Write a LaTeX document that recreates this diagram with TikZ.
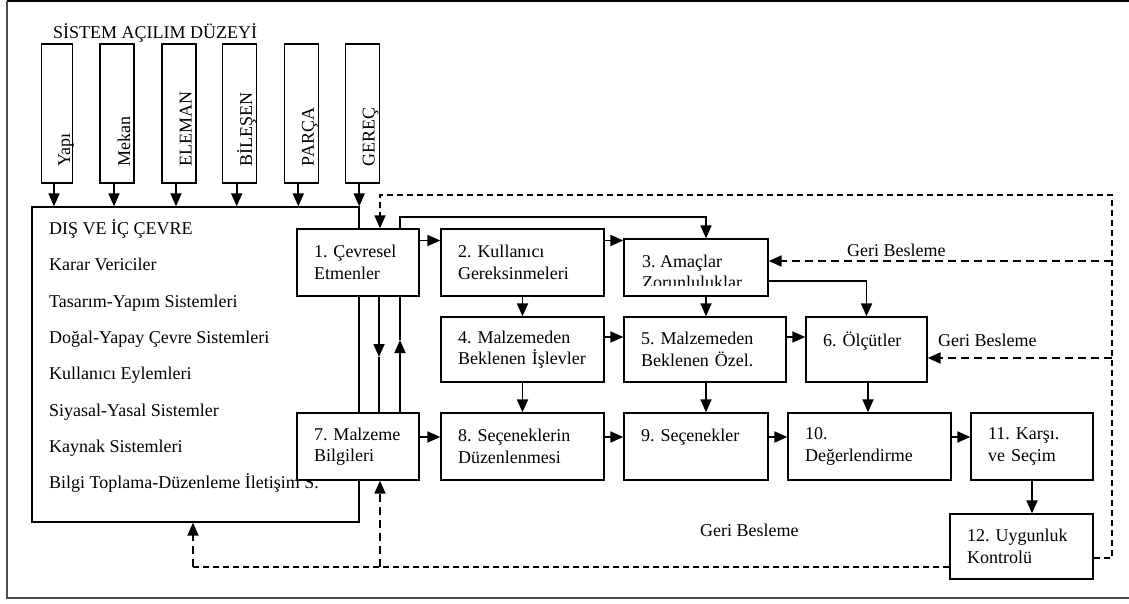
\documentclass[tikz,border=0pt]{standalone}
\usepackage{fontspec}
\setmainfont{Liberation Serif}
\usetikzlibrary{arrows.meta}
\newcommand{\yazi}{\fontsize{18}{21.5}\selectfont\frenchspacing}
\tikzset{
	kutu/.style={draw, line width=1.3pt, fill=white, align=left, inner xsep=17pt, inner ysep=0pt},
	dikey/.style={draw, line width=1.3pt, minimum height=139pt, inner sep=0pt},
	dikeyyazi/.style={rotate=90, anchor=base west, inner sep=0pt},
	satir/.style={anchor=base west, inner sep=0pt},
	ok/.style={line width=1.8pt, ->},
	cizgi/.style={line width=1.8pt},
	geri/.style={line width=1.8pt, dash pattern=on 8pt off 5pt, ->},
	ince/.style={line width=1.3pt, dash pattern=on 6pt off 4pt}
}
\begin{document}
\begin{tikzpicture}[>={Triangle[length=13pt,width=11pt]}, x=1pt, y=-1pt, font=\yazi]
	\useasboundingbox (0,0) rectangle (1129,604);
	% frame
	\draw[line width=2pt] (1129,1.5) -- (7,1.5);
	\draw[line width=1.2pt, black!70] (7,1.5) -- (7,598) -- (1129,598);
	
	\node[satir] (baslik) at (53,39) {SİSTEM AÇILIM DÜZEYİ};
	
	% system levels
	\node[dikey, minimum width=31pt] (yapi) at (57,113.5) {};
	\node[dikey, minimum width=34pt] (mekan) at (117,113.5) {};
	\node[dikey, minimum width=34pt] (eleman) at (179,113.5) {};
	\node[dikey, minimum width=34pt] (bilesen) at (239.7,113.5) {};
	\node[dikey, minimum width=34pt] (parca) at (301.3,113.5) {};
	\node[dikey, minimum width=34pt] (gerec) at (362.2,113.5) {};
	\node[dikeyyazi] (yapiy) at (70,166.5) {Yapı};
	\node[dikeyyazi] (mekany) at (130,166.5) {Mekan};
	\node[dikeyyazi] (elemany) at (191.5,166.5) {ELEMAN};
	\node[dikeyyazi] (bileseny) at (252,166.5) {BİLEŞEN};
	\node[dikeyyazi] (parcay) at (313.8,166.5) {PARÇA};
	\node[dikeyyazi] (gerecy) at (374.5,166.5) {GEREÇ};
	
	% environment
	\node[draw, line width=1.3pt, minimum width=327pt, minimum height=315pt, inner sep=0pt] (dis) at (195.5,364.5) {};
	\draw[ok] ([xshift=-3pt]yapi.south) -- ([xshift=-3pt]yapi.south |- dis.north);
	\draw[ok] ([xshift=-3pt]mekan.south) -- ([xshift=-3pt]mekan.south |- dis.north);
	\draw[ok] ([xshift=-3pt]eleman.south) -- ([xshift=-3pt]eleman.south |- dis.north);
	\draw[ok] ([xshift=-3pt]bilesen.south) -- ([xshift=-3pt]bilesen.south |- dis.north);
	\draw[ok] ([xshift=-3pt]parca.south) -- ([xshift=-3pt]parca.south |- dis.north);
	\draw[ok] ([xshift=-3pt]gerec.south) -- ([xshift=-3pt]gerec.south |- dis.north);
	\node[satir] (c1) at (49,234.3) {DIŞ VE İÇ ÇEVRE};
	\node[satir] (c2) at (49,270.65) {Karar Vericiler};
	\node[satir] (c3) at (49,307) {Tasarım-Yapım Sistemleri};
	\node[satir] (c4) at (49,343.35) {Doğal-Yapay Çevre Sistemleri};
	\node[satir] (c5) at (49,379.7) {Kullanıcı Eylemleri};
	\node[satir] (c6) at (49,416.05) {Siyasal-Yasal Sistemler};
	\node[satir] (c7) at (49,452.4) {Kaynak Sistemleri};
	\node[satir] (c8) at (49,488.75) {Bilgi Toplama-Düzenleme İletişim S.};
	
	% steps
	\node[kutu, text width=88pt, minimum height=67pt] (k1) at (358,262.5) {1. Çevresel\\Etmenler};
	\node[kutu, text width=129pt, minimum height=67pt] (k2) at (522.5,262.5) {2. Kullanıcı\\Gereksinmeleri};
	\node[kutu, minimum width=144pt, minimum height=57pt] (k3) at (696,267.5) {};
	\begin{scope}
		\clip (624,239) rectangle (768,285.5);
		\node[anchor=north west, align=left, inner sep=0pt] (k3y) at (642,254.5) {3. Amaçlar\\Zorunluluklar};
	\end{scope}
	\node[kutu, text width=129pt, minimum height=65pt] (k4) at (522.5,349.5) {4. Malzemeden\\Beklenen İşlevler};
	\node[kutu, text width=128pt, minimum height=65pt] (k5) at (705,349.5) {5. Malzemeden\\Beklenen Özel.};
	\node[kutu, text width=87pt, minimum height=65pt] (k6) at (866.5,349.5) {6. Ölçütler\\\mbox{}};
	\node[kutu, text width=88pt, minimum height=67pt] (k7) at (358,446.5) {7. Malzeme\\Bilgileri};
	\node[kutu, text width=129pt, minimum height=67pt] (k8) at (522.5,446.5) {8. Seçeneklerin\\Düzenlenmesi};
	\node[kutu, text width=110pt, minimum height=67pt] (k9) at (696,446.5) {9. Seçenekler\\\mbox{}};
	\node[kutu, text width=129pt, minimum height=67pt] (k10) at (869.5,446.5) {10.\\Değerlendirme};
	\node[kutu, text width=88pt, minimum height=67pt] (k11) at (1032,446.5) {11. Karşı.\\ve Seçim};
	\node[kutu, text width=109pt, minimum height=65pt] (k12) at (1021.5,546.5) {12. Uygunluk\\Kontrolü};
	
	\coordinate (y1) at (0,240.5);
	\coordinate (y2) at (0,337);
	\coordinate (y3) at (0,437);
	\coordinate (u1) at (400,217);
	\coordinate (u2) at (706,217);
	\coordinate (u3) at (0,281);
	\coordinate (u4) at (868,0);
	\coordinate (m1) at (379,357);
	\coordinate (m2) at (400,340);
	
	\draw[ok] (k1.east |- y1) -- (k2.west |- y1);
	\draw[ok] (k2.east |- y1) -- (k3.west |- y1);
	\draw[ok] (k1.north -| u1) -- (u1) -- (u2) -- (k3.north -| u2);
	\draw[ok] (k2) -- (k4);
	\draw[ok] (k3.south -| u2) -- (k5.north -| u2);
	\draw[ok] (k3.east |- u3) -| (k6.north);
	\draw[ok] (k4.east |- y2) -- (k5.west |- y2);
	\draw[ok] (k5.east |- y2) -- (k6.west |- y2);
	\draw[ok] (k4) -- (k8);
	\draw[ok] (k5.south -| u2) -- (k9.north -| u2);
	\draw[ok] (k6.south -| u4) -- (k10.north -| u4);
	\draw[ok] (k7.east |- y3) -- (k8.west |- y3);
	\draw[ok] (k8.east |- y3) -- (k9.west |- y3);
	\draw[ok] (k9.east |- y3) -- (k10.west |- y3);
	\draw[ok] (k10.east |- y3) -- (k11.west |- y3);
	\draw[ok] (k11.south) -- (k11.south |- k12.north);
	% between 1 and 7
	\draw[ok] (k1.south -| m1) -- (m1);
	\draw[cizgi] (m1) -- (k7.north -| m1);
	\draw[ok] (k7.north -| m2) -- (m2);
	\draw[cizgi] (m2) -- (k1.south -| m2);
	
	% feedback
	\coordinate (r1) at (1112,195);
	\coordinate (r2) at (1112,558);
	\coordinate (g1) at (380,195);
	\coordinate (yg1) at (0,261);
	\coordinate (yg2) at (0,358);
	\coordinate (a1) at (193,567);
	\coordinate (a2) at (380,567);
	\draw[ince,->] (k12.east |- r2) -- (r2) -- (r1) -- (g1) -- (k1.north -| g1);
	\draw[geri] (r1 |- yg1) -- (k3.east |- yg1);
	\draw[geri] (r1 |- yg2) -- (k6.east |- yg2);
	\draw[ince] (k12.west |- a1) -- (a1);
	\draw[geri] (a1) -- (dis.south -| a1);
	\draw[geri] (a2) -- (k7.south -| a2);
	\node[satir] (gb1) at (847,256.5) {Geri Besleme};
	\node[satir] (gb2) at (938,346.5) {Geri Besleme};
	\node[satir] (gb3) at (700,536) {Geri Besleme};
\end{tikzpicture}
\end{document}
